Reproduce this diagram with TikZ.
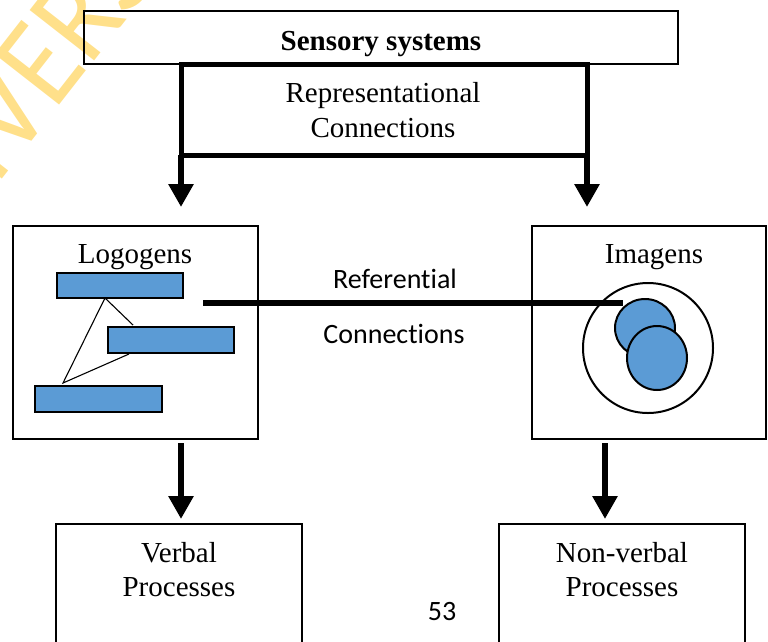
\documentclass[tikz,border=0pt]{standalone}
\usepackage{fontspec}
\setmainfont{Liberation Serif}
\newfontfamily\calibri{Carlito}[Ligatures=NoCommon]
\usetikzlibrary{arrows.meta,shapes.geometric}
\definecolor{barblue}{HTML}{5B9BD5}
\definecolor{wmyellow}{HTML}{FFE08A}
\begin{document}
\begin{tikzpicture}[x=1pt,y=-1pt,
  box/.style={draw, line width=1.5pt, inner sep=0pt, outer sep=0pt},
  bar/.style={draw, line width=2.5pt, fill=barblue, inner sep=0pt, outer sep=0pt},
  blob/.style={draw, line width=2pt, fill=barblue, ellipse, inner sep=0pt, outer sep=0pt},
  serif/.style={font=\fontsize{29}{34}\selectfont, inner sep=0pt},
  sans/.style={font=\calibri\fontsize{28}{34}\selectfont, inner sep=0pt},
  bigarrow/.style={line width=6pt, -{Triangle[length=23pt,width=24pt]}},
  thinline/.style={line width=1.1pt},
]
\clip (0,0) rectangle (768,641);
% watermark
\node[rotate=52, anchor=base west, text=wmyellow, font=\calibri\fontsize{116}{116}\selectfont, inner sep=0pt, yscale=1.1] (wmark) at (14,164) {\llap{UNI}VERSITY};

% top box
\node[box, minimum width=594pt, minimum height=53pt] (sens) at (381,37.5) {};
\node[serif, font=\fontsize{29}{34}\selectfont\bfseries, anchor=base] (tsens) at (381,50) {Sensory systems};

% representational bracket
\node[draw, line width=5pt, inner sep=0pt, outer sep=0pt, minimum width=406pt, minimum height=91pt] (repbox) at (384,109.5) {};
\node[serif, anchor=base] (trep1) at (383,102) {Representational};
\node[serif, anchor=base] (trep2) at (383,137) {Connections};
\coordinate (a1e) at (181,207);
\coordinate (a2e) at (587,207);
\draw[bigarrow] (repbox.south west) -- (a1e);
\draw[bigarrow] (repbox.south east) -- (a2e);

% logogens
\node[box, minimum width=245pt, minimum height=213pt] (logo) at (135.5,332.5) {};
\node[serif, anchor=base] (tlogo) at (135,263) {Logogens};
\node[bar, minimum width=126pt, minimum height=25pt] (bar1) at (120,285.5) {};
\node[bar, minimum width=126pt, minimum height=26pt] (bar2) at (171,340) {};
\node[bar, minimum width=127pt, minimum height=26pt] (bar3) at (98.5,399) {};
\coordinate (t1) at (105,298);
\coordinate (t2) at (133,325);
\coordinate (t3) at (63,383);
\coordinate (t4) at (129,354);
\draw[thinline] (t2) -- (t1) -- (t3) -- (t4);

% imagens
\node[box, minimum width=234pt, minimum height=213pt] (imag) at (649,332.5) {};
\node[serif, anchor=base] (timag) at (654,263) {Imagens};
\node[circle, draw, line width=2pt, minimum size=130pt, inner sep=0pt] (outer) at (648,348) {};

% referential connection
\coordinate (r1) at (203,303);
\coordinate (r2) at (623,303);
\draw[line width=6pt] (r1) -- (r2);
\node[sans, anchor=base] (tref1) at (395,288) {Referential};
\node[sans, anchor=base] (tref2) at (394,343) {Connections};

\node[blob, minimum width=60pt, minimum height=58pt] (c1) at (645,328) {};
\node[blob, minimum width=60pt, minimum height=64pt] (c2) at (657,358) {};

% bottom arrows
\coordinate (b1s) at (181,443);
\coordinate (b1e) at (181,519);
\coordinate (b2s) at (605,443);
\coordinate (b2e) at (605,519);
\draw[bigarrow] (b1s) -- (b1e);
\draw[bigarrow] (b2s) -- (b2e);

% bottom boxes
\node[box, minimum width=246pt, minimum height=136pt] (verb) at (179,592) {};
\node[serif, anchor=base] (tverb1) at (179,562) {Verbal};
\node[serif, anchor=base] (tverb2) at (179,596) {Processes};
\node[box, minimum width=246pt, minimum height=136pt] (nonv) at (622,592) {};
\node[serif, anchor=base] (tnonv1) at (622,562) {Non-verbal};
\node[serif, anchor=base] (tnonv2) at (622,596) {Processes};

\node[sans, anchor=base] (page) at (442,620) {53};
\end{tikzpicture}
\end{document}
